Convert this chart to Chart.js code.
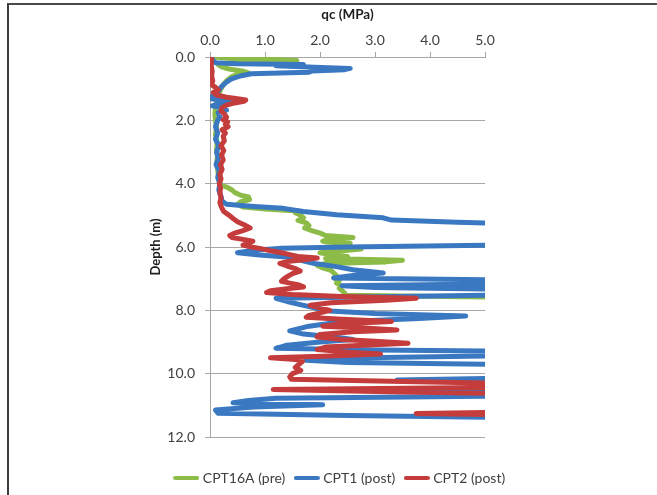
<!DOCTYPE html>
<html><head><meta charset="utf-8">
<script src="https://cdn.jsdelivr.net/npm/chart.js@4.4.1/dist/chart.umd.min.js"></script>
<style>
html,body{margin:0;padding:0;background:#fff;}
#wrap{position:relative;width:657px;height:495px;}
#frame{position:absolute;left:7px;top:3px;right:0;bottom:0;border-top:2px solid #4a4a4a;border-left:2px solid #3c3c3c;pointer-events:none;}
</style></head><body>
<div id="wrap"><canvas id="c"></canvas><div id="frame"></div></div>
<script>
// ---- data (qc in MPa, depth in m); values of 6.0 are off-scale readings beyond the 5.0 axis limit ----
const seriesNames = ['CPT16A (pre)', 'CPT1 (post)', 'CPT2 (post)'];
const xTicks = [0, 1, 2, 3, 4, 5];
const yTicks = [0, 2, 4, 6, 8, 10, 12];

const cpt16aDepth = [
  0.00,0.04,0.08,0.11,0.14,0.17,0.20,0.24,0.30,0.38,
  0.45,0.50,0.55,0.62,0.72,0.85,1.00,1.20,1.40,1.60,
  1.80,2.00,2.20,2.45,2.70,2.95,3.20,3.45,3.70,3.95,
  4.05,4.12,4.20,4.28,4.36,4.42,4.50,4.58,4.66,4.74,
  4.80,4.86,4.92,5.00,5.08,5.16,5.24,5.32,5.40,5.48,
  5.56,5.64,5.70,5.76,5.82,5.88,5.94,6.00,6.06,6.12,
  6.18,6.24,6.30,6.36,6.42,6.47,6.52,6.58,6.66,6.74,
  6.82,6.90,6.98,7.06,7.14,7.22,7.30,7.38,7.46,7.52,
  7.60,7.68];
const cpt16aQc = [
  0.05,0.40,1.20,1.58,1.55,0.90,0.30,0.15,0.20,0.35,
  0.60,0.70,0.50,0.40,0.32,0.25,0.20,0.15,0.12,0.10,
  0.09,0.10,0.12,0.10,0.13,0.12,0.14,0.13,0.15,0.17,
  0.20,0.32,0.40,0.45,0.55,0.70,0.72,0.55,0.50,0.60,
  1.00,1.60,1.55,1.65,1.70,1.60,1.75,1.80,1.72,1.85,
  2.00,2.10,2.60,2.15,2.05,2.55,2.20,2.10,2.75,2.40,
  2.00,2.20,2.50,2.10,3.50,3.20,2.10,1.95,2.05,2.20,
  2.25,2.30,2.25,2.35,2.30,2.38,2.35,2.40,2.45,2.45,
  6.00,6.00];

const cpt1Depth = [
  0.00,0.10,0.18,0.21,0.24,0.28,0.32,0.36,0.40,0.44,
  0.48,0.53,0.60,0.70,0.82,0.95,1.08,1.18,1.26,1.32,
  1.38,1.43,1.48,1.54,1.60,1.68,1.76,1.88,2.00,2.20,
  2.40,2.60,2.80,3.00,3.20,3.40,3.60,3.80,4.00,4.20,
  4.40,4.55,4.65,4.72,4.78,4.88,4.98,5.08,5.15,5.22,
  5.28,5.92,6.00,6.04,6.10,6.18,6.25,6.32,6.42,6.52,
  6.62,6.72,6.82,6.90,6.98,7.05,7.15,7.22,7.28,7.35,
  7.50,7.62,7.72,7.82,7.92,8.02,8.10,8.18,8.26,8.36,
  8.50,8.65,8.75,8.85,8.92,9.00,9.10,9.20,9.25,9.30,
  9.42,9.52,9.58,9.65,9.72,10.12,10.20,10.28,10.45,10.52,
  10.60,10.70,10.78,10.85,10.92,10.98,11.05,11.15,11.25,11.32,
  11.40];
const cpt1Qc = [
  0.03,0.05,0.10,0.50,1.70,1.20,1.90,2.55,2.45,1.85,
  1.80,0.75,0.55,0.38,0.28,0.20,0.15,0.08,0.03,0.02,
  0.30,0.45,0.15,0.04,0.20,0.30,0.15,0.18,0.14,0.10,
  0.14,0.10,0.16,0.12,0.15,0.11,0.17,0.14,0.18,0.16,
  0.20,0.22,0.30,0.80,1.33,1.70,2.30,3.15,3.30,4.50,
  6.00,6.00,2.50,1.30,0.80,0.50,0.90,1.45,1.65,1.90,
  2.30,2.60,3.15,2.60,2.25,6.00,6.00,2.40,3.00,6.00,
  6.00,1.20,1.40,1.64,1.90,2.18,3.00,4.65,3.80,2.40,
  1.80,1.45,1.70,2.30,2.60,2.00,1.40,1.20,3.00,6.00,
  6.00,1.90,1.75,2.50,6.00,6.00,3.40,6.00,6.00,3.60,
  6.00,6.00,1.20,0.70,0.42,2.05,0.80,0.10,0.15,2.50,
  6.00];

const cpt2Depth = [
  0.00,0.15,0.30,0.45,0.60,0.75,0.88,0.96,1.04,1.12,
  1.20,1.27,1.32,1.36,1.40,1.45,1.52,1.60,1.70,1.80,
  1.90,1.98,2.05,2.12,2.20,2.30,2.40,2.50,2.65,2.80,
  2.95,3.10,3.25,3.40,3.55,3.70,3.85,4.00,4.15,4.30,
  4.45,4.60,4.75,4.88,5.00,5.10,5.20,5.30,5.40,5.48,
  5.56,5.64,5.70,5.76,5.82,5.88,5.94,6.00,6.06,6.12,
  6.18,6.24,6.30,6.35,6.40,6.46,6.52,6.60,6.68,6.76,
  6.84,6.92,7.00,7.08,7.14,7.20,7.26,7.32,7.38,7.44,
  7.50,7.56,7.62,7.68,7.76,7.84,7.92,8.00,8.08,8.16,
  8.22,8.28,8.35,8.42,8.50,8.56,8.62,8.68,8.76,8.84,
  8.92,8.98,9.04,9.10,9.16,9.24,9.32,9.38,9.44,9.50,
  9.55,9.62,9.70,9.80,9.90,10.00,10.10,10.18,10.25,10.32,
  10.42,10.50,10.58,10.65,11.20,11.26,11.32];
const cpt2Qc = [
  0.02,0.03,0.02,0.04,0.03,0.05,0.03,0.10,0.15,0.06,
  0.12,0.30,0.50,0.65,0.62,0.45,0.30,0.22,0.20,0.26,
  0.30,0.24,0.32,0.28,0.33,0.22,0.28,0.24,0.26,0.20,
  0.25,0.21,0.24,0.19,0.22,0.18,0.20,0.17,0.19,0.18,
  0.20,0.18,0.21,0.25,0.35,0.42,0.50,0.62,0.73,0.60,
  0.45,0.36,0.40,0.60,0.78,0.70,0.60,0.75,0.95,1.10,
  1.30,1.45,1.60,1.95,1.70,1.40,1.27,1.40,1.55,1.64,
  1.50,1.42,1.35,1.30,1.45,1.62,1.70,1.40,1.10,1.03,
  1.50,2.40,3.75,3.20,2.20,1.82,2.00,2.18,2.00,1.80,
  1.75,2.40,3.30,2.40,2.05,2.80,3.40,2.60,2.00,1.95,
  2.40,3.00,3.60,2.80,2.10,1.95,2.50,3.10,2.20,1.10,
  1.55,1.68,1.62,1.55,1.65,1.50,1.45,1.48,3.50,6.00,
  6.00,1.15,3.50,6.00,6.00,3.75,6.00];

// ---- build ----
const colors = ['#8cbb48', '#3a78c2', '#c43c3b'];
function pts(qc, depth) { return qc.map((q, i) => ({ x: q, y: depth[i] })); }
const FONT = 'Lato, "Open Sans", "Noto Sans", sans-serif';
Chart.defaults.font.family = FONT;
Chart.defaults.font.size = 14;

function swatch(color) {
  const cv = document.createElement('canvas');
  cv.width = 26; cv.height = 6;
  const g = cv.getContext('2d');
  g.strokeStyle = color; g.lineWidth = 4; g.lineCap = 'round';
  g.beginPath(); g.moveTo(2, 3); g.lineTo(24, 3); g.stroke();
  return cv;
}

function mkSet(i, qc, depth, order) {
  return {
    label: seriesNames[i],
    data: pts(qc, depth),
    showLine: true,
    borderColor: colors[i],
    backgroundColor: colors[i],
    borderWidth: 5,
    borderJoinStyle: 'round',
    borderCapStyle: 'round',
    pointRadius: 0,
    pointHoverRadius: 0,
    pointStyle: swatch(colors[i]),
    pointBorderColor: colors[i],
    pointBorderWidth: 0,
    tension: 0,
    order: order,
    xAxisID: 'x',
    yAxisID: 'y'
  };
}
const grid = '#a9a6a3';
new Chart(document.getElementById('c'), {
  type: 'scatter',
  data: {
    datasets: [
      mkSet(0, cpt16aQc, cpt16aDepth, 3),
      mkSet(1, cpt1Qc, cpt1Depth, 2),
      mkSet(2, cpt2Qc, cpt2Depth, 1)
    ]
  },
  options: {
    responsive: true,
    maintainAspectRatio: false,
    animation: false,
    events: [],
    layout: { padding: { left: 25, right: 0, top: 4, bottom: 0 } },
    scales: {
      x: {
        type: 'linear', position: 'top', min: xTicks[0], max: xTicks[xTicks.length - 1],
        afterBuildTicks: s => { s.ticks = xTicks.map(v => ({ value: v })); },
        ticks: { callback: v => Number(v).toFixed(1), color: '#404040', padding: 3, maxRotation: 0 },
        grid: { drawOnChartArea: false, drawTicks: true, tickLength: 5, color: grid },
        border: { display: true, color: grid },
        title: { display: true, text: 'qc (MPa)', color: '#1e1e1e', font: { weight: 'bold', size: 13.5 }, padding: { top: 3, bottom: 0 } },
        afterFit: s => { s.height = 53; }
      },
      y: {
        type: 'linear', position: 'left', reverse: true, min: yTicks[0], max: yTicks[yTicks.length - 1],
        afterBuildTicks: s => { s.ticks = yTicks.map(v => ({ value: v })); },
        ticks: { callback: v => Number(v).toFixed(1), color: '#404040', padding: 10 },
        grid: { color: grid, tickLength: 5 },
        border: { display: true, color: grid },
        title: { display: true, text: 'Depth (m)', color: '#1e1e1e', font: { weight: 'bold', size: 13 }, padding: { top: 123, bottom: 0 } },
        afterFit: s => { s.width = 185; }
      },
      y2: {
        type: 'linear', position: 'right', display: true,
        grid: { display: false }, border: { display: false }, ticks: { display: false },
        afterFit: s => { s.width = 172; }
      }
    },
    plugins: {
      tooltip: { enabled: false },
      legend: {
        position: 'bottom',
        title: { display: true, text: '', font: { size: 10, lineHeight: 1.2 }, padding: { top: 10, bottom: 0 } },
        labels: {
          usePointStyle: true,
          pointStyleWidth: 19,
          color: '#404040',
          padding: 12,
          font: { size: 14 },
          sort: (a, b) => a.datasetIndex - b.datasetIndex
        }
      }
    }
  }
});
</script></body></html>
